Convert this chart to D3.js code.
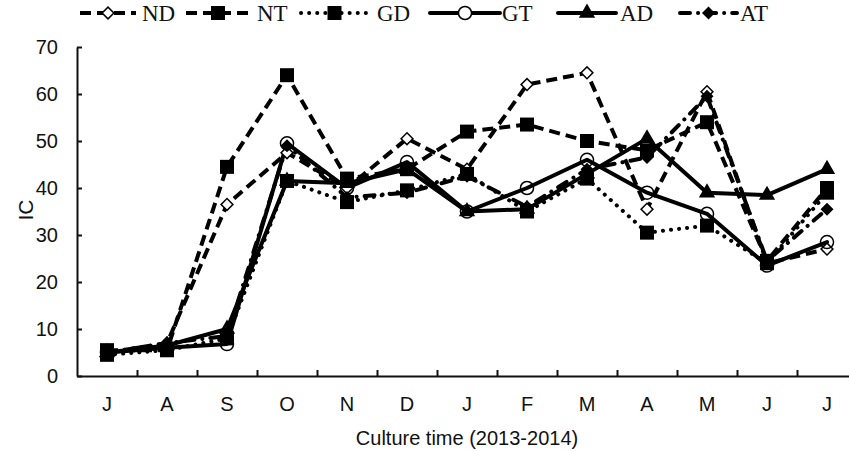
<!DOCTYPE html>
<html>
<head>
<meta charset="utf-8">
<script src="https://cdn.jsdelivr.net/npm/d3@7"></script>
<style>
  body { margin: 0; background: #fff; }
  text { fill: #111; }
</style>
</head>
<body>
<svg width="849" height="451"></svg>
<script>
// months of the culture period (Jul 2013 - Jul 2014)
var months = ["J", "A", "S", "O", "N", "D", "J", "F", "M", "A", "M", "J", "J"];
var yTicks = [0, 10, 20, 30, 40, 50, 60, 70];

// IC values
var ndValues = [5, 7, 36.5, 47.5, 40, 50.5, 44, 62, 64.5, 35.5, 60.5, 24, 27];
var ntValues = [5.5, 5.5, 44.5, 64, 42, 44, 52, 53.5, 50, 48, 54, 24.5, 40];
var gdValues = [4.5, 5.5, 8, 41.5, 37, 39.5, 43, 35, 42, 30.5, 32, 24, 39];
var gtValues = [5, 6, 6.8, 49.5, 40, 45.5, 35, 40, 46, 39, 34.5, 23.5, 28.5];
var adValues = [5, 6.5, 10, 41.5, 41, 44, 35, 35.5, 43, 50.5, 39, 38.5, 44];
var atValues = [5, 7, 8.5, 49, 38, 39, 42.5, 36, 44, 46.5, 59.5, 24.5, 35.5];

var series = [
    { name: "ND", values: ndValues, dash: "11,6", cap: "butt", symbol: "diamond", fill: "#fff" },
    { name: "NT", values: ntValues, dash: "11,6", cap: "butt", symbol: "square", fill: "#000" },
    { name: "GD", values: gdValues, dash: "0.1,8", cap: "round", symbol: "square", fill: "#000" },
    { name: "GT", values: gtValues, dash: null, cap: "round", symbol: "circle", fill: "none" },
    { name: "AD", values: adValues, dash: null, cap: "round", symbol: "triangle", fill: "#000" },
    { name: "AT", values: atValues, dash: "10,8,0.1,8", cap: "round", symbol: "fdiamond", fill: "#000" }
];

// legend layout: line start/end, text x
var legendPos = [
    { x0: 80, x1: 136, tx: 142 },
    { x0: 186, x1: 250, tx: 257 },
    { x0: 301, x1: 368, tx: 377 },
    { x0: 430, x1: 500, tx: 502 },
    { x0: 558, x1: 616, tx: 620 },
    { x0: 680, x1: 737, tx: 740 }
];

var margin = { left: 77, top: 47, bottom: 75 },
    svgH = 451,
    step = 60;

var svg = d3.select("svg");

var x = d3.scaleBand()
    .domain(d3.range(months.length))
    .range([margin.left, margin.left + step * months.length]);

var xEdge = d3.scaleLinear()
    .domain([0, months.length])
    .range([margin.left, margin.left + step * months.length]);

var y = d3.scaleLinear()
    .domain([0, 70])
    .range([svgH - margin.bottom, margin.top]);

function symbolPath(kind) {
    var s = d3.symbol();
    if (kind == "square") s.type(d3.symbolSquare).size(196);
    else if (kind == "circle") s.type(d3.symbolCircle).size(135);
    else if (kind == "triangle") s.type(d3.symbolTriangle).size(115);
    else if (kind == "diamond") s.type(d3.symbolSquare).size(70);
    else s.type(d3.symbolSquare).size(85);
    return s();
}
function symbolRot(kind) {
    return (kind == "diamond" || kind == "fdiamond") ? " rotate(45)" : "";
}

// Y axis
svg.append("g")
    .attr("transform", "translate(" + margin.left + ",0)")
    .call(d3.axisLeft(y).tickValues(yTicks).tickSize(-5).tickSizeOuter(0).tickPadding(19))
    .call(function(g) {
        g.selectAll("path, line").attr("stroke", "#111").attr("stroke-width", 2);
        g.selectAll("text").style("font-family", "Liberation Sans, Arial, sans-serif").style("font-size", "20px");
    });

// X axis: labels at band centres, ticks at band edges
var xAxisY = y(0);
svg.append("g")
    .attr("transform", "translate(0," + xAxisY + ")")
    .call(d3.axisBottom(x).tickSize(0).tickPadding(21).tickFormat(function(i) { return months[i]; }))
    .call(function(g) {
        g.select("path").remove();
        g.selectAll("text").style("font-family", "Liberation Sans, Arial, sans-serif").style("font-size", "20px");
    });
svg.append("g")
    .attr("transform", "translate(0," + xAxisY + ")")
    .call(d3.axisBottom(xEdge).tickValues(d3.range(1, months.length + 1)).tickSize(-6).tickSizeOuter(0).tickFormat(""))
    .call(function(g) {
        g.selectAll("path, line").attr("stroke", "#111").attr("stroke-width", 2);
    });

// axis titles
svg.append("text")
    .attr("transform", "translate(33,210) rotate(-90)")
    .attr("text-anchor", "middle")
    .style("font-family", "Liberation Sans, Arial, sans-serif")
    .style("font-size", "21px")
    .text("IC");

svg.append("text")
    .attr("x", 467)
    .attr("y", 445)
    .attr("text-anchor", "middle")
    .style("font-family", "Liberation Sans, Arial, sans-serif")
    .style("font-size", "20px")
    .text("Culture time (2013-2014)");

// lines
var line = d3.line()
    .x(function(d, i) { return x(i) + x.bandwidth() / 2; })
    .y(function(d) { return y(d); });

series.forEach(function(s) {
    svg.append("path")
        .datum(s.values)
        .attr("d", line)
        .attr("fill", "none")
        .attr("stroke", "#000")
        .attr("stroke-width", 4)
        .attr("stroke-linejoin", "round")
        .attr("stroke-linecap", s.cap)
        .attr("stroke-dasharray", s.dash);
});

// markers
series.forEach(function(s) {
    svg.append("g").selectAll("path")
        .data(s.values)
        .enter().append("path")
        .attr("d", symbolPath(s.symbol))
        .attr("transform", function(d, i) {
            return "translate(" + (x(i) + x.bandwidth() / 2) + "," + y(d) + ")" + symbolRot(s.symbol);
        })
        .attr("fill", s.fill)
        .attr("stroke", "#000")
        .attr("stroke-width", s.fill == "#000" ? 0 : 1.5);
});

// legend
var legendY = 13;
var leg = svg.append("g").selectAll("g")
    .data(series)
    .enter().append("g");

leg.append("line")
    .attr("x1", function(d, i) { return legendPos[i].x0; })
    .attr("x2", function(d, i) { return legendPos[i].x1; })
    .attr("y1", legendY).attr("y2", legendY)
    .attr("stroke", "#000")
    .attr("stroke-width", 4)
    .attr("stroke-linecap", function(d) { return d.cap; })
    .attr("stroke-dasharray", function(d) { return d.dash; });

leg.append("path")
    .attr("d", function(d) { return symbolPath(d.symbol); })
    .attr("transform", function(d, i) {
        var p = legendPos[i];
        return "translate(" + ((p.x0 + p.x1) / 2) + "," + legendY + ")" + symbolRot(d.symbol);
    })
    .attr("fill", function(d) { return d.fill == "none" ? "#fff" : d.fill; })
    .attr("stroke", "#000")
    .attr("stroke-width", function(d) { return d.fill == "#000" ? 0 : 1.5; });

leg.append("text")
    .attr("x", function(d, i) { return legendPos[i].tx; })
    .attr("y", legendY + 8)
    .style("font-family", "Liberation Serif, Times New Roman, serif")
    .style("font-size", "23px")
    .text(function(d) { return d.name; });
</script>
</body>
</html>
